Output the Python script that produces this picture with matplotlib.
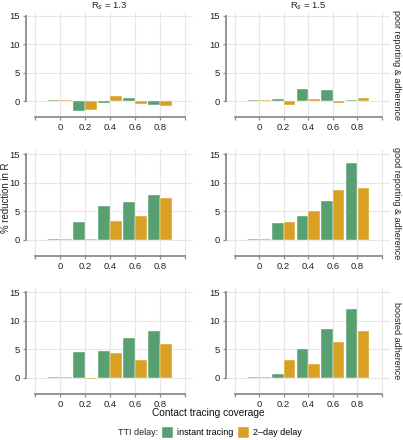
#!/usr/bin/env python3
"""Facet grid of % reduction in R vs contact tracing coverage."""

import matplotlib
import matplotlib.pyplot as plt
from matplotlib.patches import Patch

matplotlib.use("Agg")

plt.rcParams["font.family"] = ["Liberation Sans", "DejaVu Sans"]

# Data
coverage = [0.0, 0.2, 0.4, 0.6, 0.8]
col_labels = ["R$_s$ = 1.3", "R$_s$ = 1.5"]
row_labels = ["poor reporting & adherence", "good reporting & adherence", "boosted adherence"]
series_labels = ["instant tracing", "2\u2013day delay"]

# [row][col] -> values per coverage
instant = [
    [[0.12, -1.8, -0.35, 0.5, -0.6], [0.12, 0.45, 2.1, 1.9, 0.12]],
    [[0.12, 3.2, 5.9, 6.7, 7.8], [0.12, 2.9, 4.2, 6.8, 13.5]],
    [[0.12, 4.6, 4.75, 6.9, 8.2], [0.12, 0.75, 5.1, 8.5, 12.0]],
]
delayed = [
    [[0.12, -1.5, 0.85, -0.5, -0.85], [0.12, -0.6, 0.3, -0.3, 0.63]],
    [[0.12, 0.18, 3.35, 4.1, 7.4], [0.12, 3.2, 5.0, 8.8, 9.0]],
    [[0.12, -0.25, 4.3, 3.2, 5.9], [0.12, 3.1, 2.4, 6.35, 8.2]],
]

x_ticks = [-0.2, 0.0, 0.2, 0.4, 0.6, 0.8, 1.0]
x_ticklabels = ["", "0", "0.2", "0.4", "0.6", "0.8", ""]
y_ticks = [0, 5, 10, 15]

colors = ["#589F72", "#D9A026"]
text_color = "#222222"
W, H = 403, 440

fig = plt.figure(figsize=(W / 100, H / 100), dpi=100)

# panel boxes in pixels (left, right) and (top, bottom)
cols_px = [(26, 193), (226, 390)]
rows_px = [(12, 117), (150, 256), (288, 394)]

for i, (top, bot) in enumerate(rows_px):
    for j, (left, right) in enumerate(cols_px):
        ax = fig.add_axes([left / W, 1 - bot / H, (right - left) / W, (bot - top) / H])
        bw = 0.093
        ax.bar([c - 0.0475 for c in coverage], instant[i][j], width=bw,
               color=colors[0], edgecolor="white", linewidth=0.3, zorder=3)
        ax.bar([c + 0.0475 for c in coverage], delayed[i][j], width=bw,
               color=colors[1], edgecolor="white", linewidth=0.3, zorder=3)

        ax.set_xlim(-0.27, 1.065)
        ax.set_ylim(-2.8, 15.7)
        ax.set_xticks(x_ticks)
        ax.set_xticklabels(x_ticklabels)
        ax.set_yticks(y_ticks)
        ax.grid(True, color="#E6E6E6", linewidth=0.8, zorder=0)
        ax.set_axisbelow(True)

        for s in ["top", "right"]:
            ax.spines[s].set_visible(False)
        for s in ["left", "bottom"]:
            ax.spines[s].set_color("#8C8C8C")
            ax.spines[s].set_linewidth(1.3)
        ax.spines["left"].set_bounds(0, 15)
        ax.spines["bottom"].set_bounds(-0.2, 1.0)
        ax.tick_params(colors="#8C8C8C", labelcolor=text_color, labelsize=6.8,
                       length=2.5, width=0.9, pad=1.8)

        if i == 0:
            fig.text((left + right) / 2 / W, 1 - 6 / H, col_labels[j],
                     ha="center", va="center", fontsize=6.8, color=text_color)
        if j == 1:
            fig.text(397 / W, 1 - (top + bot) / 2 / H, row_labels[i], rotation=-90,
                     ha="center", va="center", fontsize=6.5, color=text_color)

fig.text(6 / W, 1 - 198 / H, "% reduction in R", rotation=90, ha="center",
         va="center", fontsize=6.9, color=text_color)
fig.text(208 / W, 1 - 413 / H, "Contact tracing coverage", ha="center",
         va="center", fontsize=7.3, color="#111111")

fig.text(118 / W, 1 - 432 / H, "TTI delay:", ha="left", va="center",
         fontsize=6.5, color=text_color)
handles = [Patch(facecolor=c, edgecolor="white") for c in colors]
fig.legend(handles, series_labels, ncol=2, loc="center left",
           bbox_to_anchor=(161 / W, 1 - 432 / H), frameon=False, fontsize=6.5,
           handlelength=1.35, handleheight=1.5, handletextpad=0.45,
           columnspacing=0.4, borderpad=0, borderaxespad=0)

fig.savefig("out.png", dpi=100)
